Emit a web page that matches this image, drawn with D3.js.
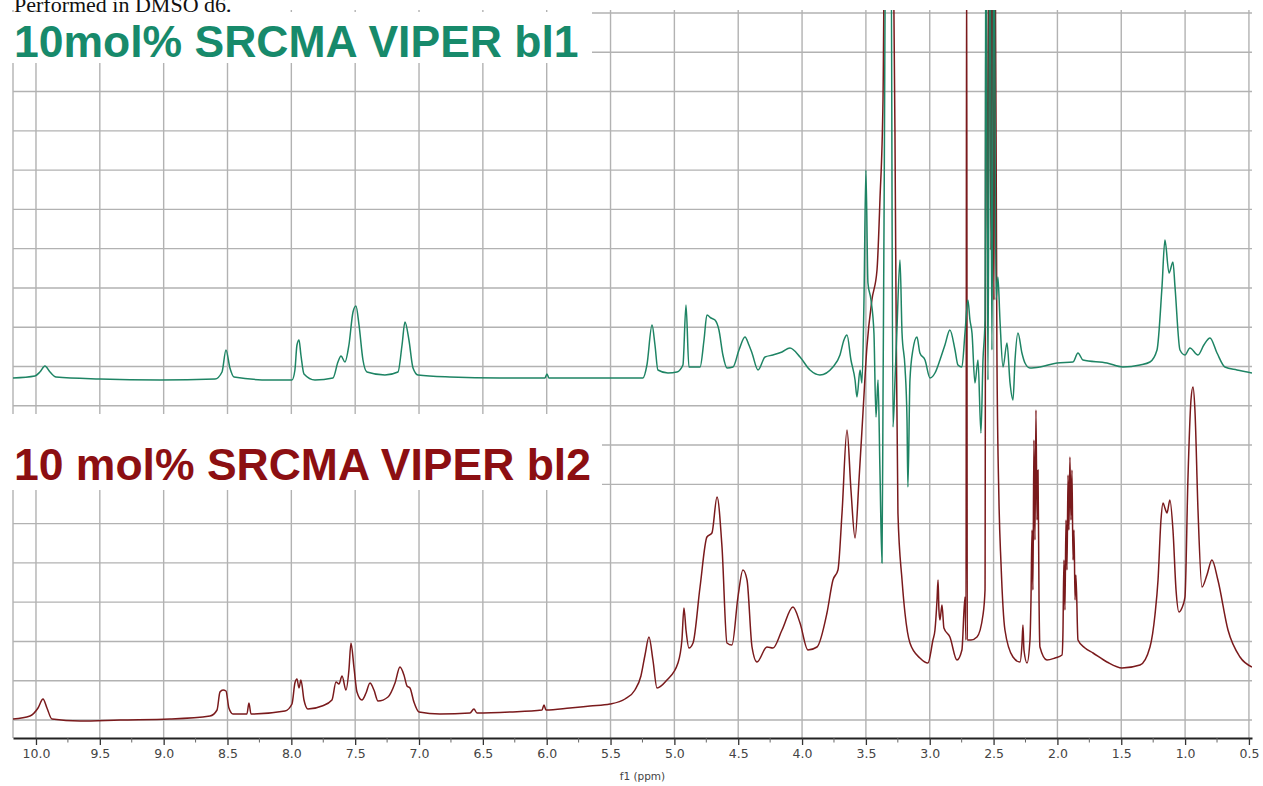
<!DOCTYPE html>
<html>
<head>
<meta charset="utf-8">
<script src="https://cdn.jsdelivr.net/npm/d3@7"></script>
<style>
  html, body { margin: 0; padding: 0; background: #fff; }
  svg { display: block; }
</style>
</head>
<body>
<svg id="chart" width="1263" height="786"></svg>
<script>
// ---- data -------------------------------------------------------------
// chemical shift ticks (ppm)
const majorTicks = [10.0, 9.5, 9.0, 8.5, 8.0, 7.5, 7.0, 6.5, 6.0, 5.5, 5.0, 4.5, 4.0, 3.5, 3.0, 2.5, 2.0, 1.5, 1.0, 0.5];
const minorTicks = [9.75, 9.25, 8.75, 8.25, 7.75, 7.25, 6.75, 6.25, 5.75, 5.25, 4.75, 4.25, 3.75, 3.25, 2.75, 2.25, 1.75, 1.25, 0.75];
const noteText = "Performed in DMSO d6.";
const seriesNames = ["10mol% SRCMA VIPER bl1", "10 mol% SRCMA VIPER bl2"];
const axisTitle = "f1 (ppm)";

// spectrum bl1: [shift (ppm), intensity (a.u.)]
const bl1Points = [
  [10.180,342],[10.008,344],[9.969,348],[9.930,354],[9.890,348],[9.843,343],[9.499,341],[9.029,340],
  [8.598,341],[8.543,348],[8.512,370],[8.481,352],[8.449,343],[8.167,340],[7.995,340],[7.972,350],
  [7.956,375],[7.940,380],[7.925,365],[7.901,346],[7.815,340],[7.674,342],[7.635,358],[7.611,364],
  [7.580,358],[7.549,375],[7.517,408],[7.494,414],[7.470,395],[7.439,360],[7.408,348],[7.267,345],
  [7.165,348],[7.133,375],[7.110,398],[7.079,380],[7.047,352],[7.008,345],[6.758,343],[6.366,342],
  [6.014,342],[5.998,346],[5.982,342],[5.583,342],[5.246,342],[5.215,355],[5.175,395],[5.152,375],
  [5.129,350],[5.050,347],[4.980,348],[4.933,355],[4.909,415],[4.886,353],[4.799,353],[4.768,380],
  [4.745,405],[4.713,402],[4.682,400],[4.651,390],[4.620,365],[4.588,352],[4.541,353],[4.494,370],
  [4.447,383],[4.416,375],[4.392,367],[4.345,350],[4.290,363],[4.228,365],[4.157,368],[4.095,372],
  [4.016,363],[3.938,350],[3.860,345],[3.758,353],[3.703,365],[3.672,380],[3.648,385],[3.617,360],
  [3.585,340],[3.570,323],[3.546,350],[3.531,337],[3.515,420],[3.500,550],[3.484,437],[3.460,420],
  [3.437,387],[3.421,303],[3.405,340],[3.390,250],[3.374,157],[3.366,320],[3.358,497],[3.343,820],
  [3.304,820],[3.288,293],[3.272,340],[3.257,390],[3.233,460],[3.217,387],[3.194,353],[3.178,300],
  [3.171,233],[3.155,340],[3.132,370],[3.100,383],[3.077,367],[3.037,360],[2.998,342],[2.959,347],
  [2.920,360],[2.881,375],[2.842,390],[2.802,370],[2.779,355],[2.748,353],[2.724,387],[2.701,420],
  [2.685,400],[2.669,387],[2.646,337],[2.622,360],[2.599,287],[2.583,360],[2.567,400],[2.560,820],
  [2.544,340],[2.528,820],[2.513,370],[2.497,820],[2.481,420],[2.466,443],[2.450,400],[2.426,353],
  [2.395,377],[2.371,337],[2.348,320],[2.332,360],[2.309,387],[2.278,367],[2.254,357],[2.215,352],
  [2.137,353],[2.003,357],[1.878,358],[1.839,367],[1.800,360],[1.612,357],[1.487,353],[1.353,355],
  [1.275,358],[1.220,370],[1.181,433],[1.158,480],[1.126,447],[1.095,458],[1.079,433],[1.040,370],
  [1.001,365],[0.962,372],[0.899,365],[0.853,375],[0.805,382],[0.750,367],[0.688,353],[0.594,350],
  [0.476,347]
];

// spectrum bl2: [shift (ppm), intensity (a.u.)]
const bl2Points = [
  [10.180,1],[10.047,4],[9.984,12],[9.945,21],[9.914,12],[9.875,1],[9.655,-1],[9.342,0],[8.951,1],
  [8.637,4],[8.582,10],[8.559,28],[8.535,30],[8.512,29],[8.489,12],[8.457,6],[8.348,6],[8.332,17],
  [8.316,6],[8.050,9],[7.995,16],[7.972,37],[7.956,41],[7.940,32],[7.925,40],[7.901,20],[7.870,11],
  [7.760,14],[7.682,20],[7.650,38],[7.627,36],[7.603,44],[7.572,30],[7.549,50],[7.533,77],[7.509,52],
  [7.486,28],[7.447,20],[7.415,27],[7.384,37],[7.353,30],[7.321,19],[7.243,23],[7.188,37],[7.149,53],
  [7.118,45],[7.094,34],[7.071,32],[7.040,18],[7.000,8],[6.836,6],[6.601,7],[6.570,11],[6.546,7],
  [6.288,8],[6.037,10],[6.021,15],[6.006,10],[5.818,12],[5.661,14],[5.504,16],[5.387,21],[5.309,30],
  [5.262,44],[5.230,65],[5.199,83],[5.168,60],[5.136,32],[5.058,40],[4.972,57],[4.941,80],[4.925,112],
  [4.909,90],[4.886,72],[4.854,77],[4.799,133],[4.745,183],[4.706,187],[4.666,223],[4.627,173],
  [4.588,77],[4.549,75],[4.502,123],[4.463,150],[4.431,140],[4.392,73],[4.353,58],[4.275,73],
  [4.228,72],[4.157,90],[4.071,113],[4.016,97],[3.954,70],[3.883,73],[3.805,107],[3.758,140],
  [3.719,150],[3.687,207],[3.648,290],[3.617,230],[3.585,182],[3.554,240],[3.523,307],[3.492,373],
  [3.453,420],[3.413,450],[3.390,520],[3.366,620],[3.351,820],[3.288,820],[3.264,420],[3.249,207],
  [3.217,140],[3.194,107],[3.155,77],[3.077,62],[3.014,57],[2.975,80],[2.959,90],[2.943,120],
  [2.935,140],[2.928,110],[2.920,100],[2.904,115],[2.889,92],[2.842,83],[2.787,60],[2.748,70],
  [2.724,123],[2.716,80],[2.711,820],[2.706,80],[2.677,80],[2.630,83],[2.583,105],[2.567,130],
  [2.560,820],[2.544,420],[2.536,820],[2.520,470],[2.513,820],[2.497,420],[2.489,820],[2.474,370],
  [2.458,220],[2.442,157],[2.411,90],[2.348,63],[2.293,58],[2.278,75],[2.270,95],[2.262,70],
  [2.238,57],[2.215,80],[2.207,120],[2.199,190],[2.192,130],[2.184,280],[2.176,180],[2.168,310],
  [2.160,200],[2.152,250],[2.144,120],[2.137,73],[2.082,60],[2.019,62],[1.964,65],[1.957,85],
  [1.949,160],[1.941,110],[1.933,200],[1.925,150],[1.917,245],[1.910,190],[1.902,263],[1.894,200],
  [1.886,250],[1.878,160],[1.870,190],[1.862,120],[1.855,145],[1.839,80],[1.784,72],[1.721,67],
  [1.612,58],[1.494,52],[1.353,55],[1.275,73],[1.236,105],[1.212,140],[1.189,200],[1.173,217],
  [1.158,212],[1.142,207],[1.119,220],[1.095,190],[1.071,130],[1.048,108],[1.025,112],[1.001,123],
  [0.978,240],[0.954,320],[0.938,333],[0.923,310],[0.899,210],[0.868,133],[0.829,145],[0.790,160],
  [0.743,140],[0.664,90],[0.570,63],[0.476,53]
];

// ---- layout -----------------------------------------------------------
const svg = d3.select("#chart");
const plot = { left: 13, right: 1252, top: 10, bottom: 738 };
const gridTop = 13;
const gridRows = 18;

const x = d3.scaleLinear().domain([10.18, 0.476]).range([plot.left, plot.right]);
const y = d3.scaleLinear().domain([-18, 707]).range([plot.bottom, gridTop]);
const gridStep = 707 / gridRows;

svg.append("defs").append("clipPath").attr("id", "plotClip")
  .append("rect")
  .attr("x", plot.left).attr("y", plot.top)
  .attr("width", plot.right - plot.left).attr("height", plot.bottom - plot.top);

// grid
const grid = svg.append("g").attr("stroke", "#b2b2b2").attr("stroke-width", 1.4);
grid.selectAll("line.v").data(majorTicks).join("line")
  .attr("x1", d => x(d)).attr("x2", d => x(d))
  .attr("y1", plot.top).attr("y2", plot.bottom);
grid.selectAll("line.h").data(d3.range(gridRows + 1)).join("line")
  .attr("x1", plot.left).attr("x2", plot.right)
  .attr("y1", k => y(k * gridStep)).attr("y2", k => y(k * gridStep));
grid.append("line")
  .attr("x1", plot.left).attr("x2", plot.left)
  .attr("y1", plot.top).attr("y2", plot.bottom);

// spectra
const line = d3.line()
  .x(d => x(d[0]))
  .y(d => y(d[1]))
  .curve(d3.curveMonotoneX);

const traces = svg.append("g").attr("clip-path", "url(#plotClip)")
  .attr("fill", "none").attr("stroke-linejoin", "round");
traces.append("path").datum(bl2Points)
  .attr("d", line).attr("stroke", "#7a1a1c").attr("stroke-width", 1.5);
traces.append("path").datum(bl1Points)
  .attr("d", line).attr("stroke", "#1e8464").attr("stroke-width", 1.5);

// series labels on white panels
const labels = [
  { text: seriesNames[0], color: "#178a6b", box: [12, 12, 580, 51], x: 14, y: 57 },
  { text: seriesNames[1], color: "#8c0f12", box: [12, 414, 590, 76], x: 14, y: 480 }
];
labels.forEach(l => {
  svg.append("rect")
    .attr("x", l.box[0]).attr("y", l.box[1])
    .attr("width", l.box[2]).attr("height", l.box[3])
    .attr("fill", "#fff");
  svg.append("text")
    .attr("x", l.x).attr("y", l.y)
    .attr("font-family", "'Liberation Sans', Arial, sans-serif")
    .attr("font-weight", "bold")
    .attr("font-size", 44.5)
    .attr("fill", l.color)
    .text(l.text);
});

// document note above the plot
svg.append("text")
  .attr("x", 14).attr("y", 12)
  .attr("font-family", "'Liberation Serif', 'Times New Roman', serif")
  .attr("font-size", 22)
  .attr("fill", "#111")
  .text(noteText);

// x axis
const axisG = svg.append("g").attr("transform", `translate(0,${plot.bottom})`);
axisG.call(d3.axisBottom(x)
  .tickValues(majorTicks)
  .tickFormat(d3.format(".1f"))
  .tickSize(7)
  .tickSizeOuter(0));
axisG.select(".domain").attr("stroke", "#222").attr("stroke-width", 2.2);
axisG.selectAll(".tick line").attr("stroke", "#333").attr("stroke-width", 1.3);
axisG.selectAll(".tick text")
  .attr("y", 11)
  .attr("font-family", "'DejaVu Sans', Verdana, sans-serif")
  .attr("font-size", 12.5)
  .attr("fill", "#444");

axisG.selectAll("line.minor").data(minorTicks).join("line")
  .attr("class", "minor")
  .attr("x1", d => x(d)).attr("x2", d => x(d))
  .attr("y1", 0).attr("y2", 4.5)
  .attr("stroke", "#666").attr("stroke-width", 1);

svg.append("text")
  .attr("x", x(5.25)).attr("y", 780)
  .attr("text-anchor", "middle")
  .attr("font-family", "'DejaVu Sans', Verdana, sans-serif")
  .attr("font-size", 10.5)
  .attr("fill", "#444")
  .text(axisTitle);
</script>
</body>
</html>
